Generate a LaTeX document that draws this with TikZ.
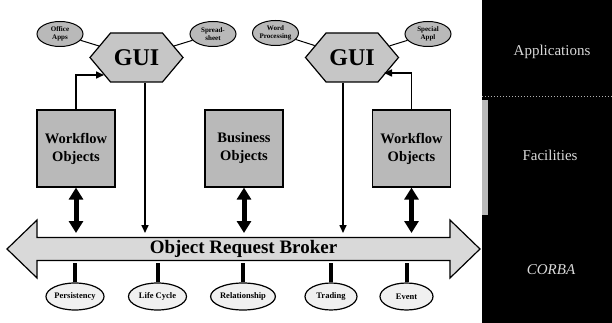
\documentclass[tikz,border=0pt]{standalone}
\usepackage{fontspec}
\setmainfont{Liberation Serif}
\usetikzlibrary{shapes.symbols,shapes.arrows,shapes.geometric,arrows.meta,backgrounds}
\begin{document}
\begin{tikzpicture}[x=1pt,y=-1pt,
  guihex/.style={signal, signal to=east and west, signal pointer angle=100,
    draw, line width=1.2pt, fill=gray!45, minimum width=93pt, minimum height=49pt,
    inner sep=0pt, font=\bfseries\fontsize{24}{24}\selectfont},
  appoval/.style={ellipse, draw, line width=1pt, fill=gray!55, minimum width=46pt,
    minimum height=25pt, inner sep=0pt, align=center,
    font=\bfseries\fontsize{7}{7.5}\selectfont},
  objbox/.style={rectangle, draw, line width=1.2pt, fill=gray!55, minimum width=78pt,
    minimum height=77pt, align=center, font=\bfseries\fontsize{14.5}{18}\selectfont},
  svcoval/.style={ellipse, draw, line width=1.2pt, fill=gray!12, minimum width=58pt,
    minimum height=27pt, inner sep=0pt, font=\bfseries\fontsize{8.5}{9}\selectfont},
  orbarrow/.style={double arrow, draw, line width=1.2pt, fill=gray!30,
    minimum width=58pt, minimum height=473pt, double arrow head extend=14pt,
    double arrow tip angle=88, inner sep=0pt,
    font=\bfseries\fontsize{19}{19}\selectfont},
  thinarrow/.style={-{Triangle[width=7pt,length=8pt]}, line width=1.6pt},
  dblarrow/.style={{Triangle[width=14pt,length=12pt]}-{Triangle[width=14pt,length=12pt]},
    line width=5pt},
  svclink/.style={line width=4pt},
  paneltext/.style={text=white!85!black, font=\fontsize{15}{15}\selectfont}
]
\useasboundingbox (0,0) rectangle (612,323);
\fill[white] (0,0) rectangle (612,323);

% layer bands on the right
\fill[black] (482,0) rectangle (612,323);
\fill[gray!55] (482,100) rectangle (488,215);
\draw[gray!60, dotted, line width=1pt] (482,97) -- (612,97);
\node[paneltext] (app) at (552,52) {Applications};
\node[paneltext] (fac) at (550,155) {Facilities};
\node[paneltext, font=\itshape\fontsize{15}{15}\selectfont] (corba) at (551,270) {CORBA};

% user interfaces and the applications attached to them
\node[guihex] (gui1) at (136.5,57.5) {GUI};
\node[guihex] (gui2) at (352,57.5) {GUI};
\node[appoval] (oa) at (60,34) {Office\\Apps};
\node[appoval] (ss) at (213,34) {Spread-\\sheet};
\node[appoval] (wp) at (275.5,33) {Word\\Processing};
\node[appoval] (sa) at (428,34) {Special\\Appl};

% business object layer
\node[objbox] (wf1) at (76,148.5) {Workflow\\Objects};
\node[objbox] (bo) at (244,148.5) {Business\\Objects};
\node[objbox] (wf2) at (411.5,148.5) {Workflow\\Objects};

% the broker and its services
\node[orbarrow] (orb) at (243.5,249) {Object Request Broker};
\node[svcoval] (per) at (75,296.5) {Persistency};
\node[svcoval] (lc) at (157.5,296.5) {Life Cycle};
\node[svcoval] (rel) at (243,296.5) {Relationship};
\node[svcoval, minimum width=52pt] (trd) at (331,296.5) {Trading};
\node[svcoval, minimum width=53pt] (evt) at (406.5,296.5) {Event};

\coordinate (orbtop) at (0,233);
\coordinate (orbbot) at (0,263);
\coordinate (g1in) at (104,75);
\coordinate (g2in) at (384,73);

% links between applications and GUIs
\draw[line width=1pt] (oa) -- (gui1);
\draw[line width=1pt] (ss) -- (gui1);
\draw[line width=1pt] (wp) -- (gui2);
\draw[line width=1pt] (sa) -- (gui2);

% objects reporting to the GUIs
\draw[thinarrow] (wf1.north) |- (g1in);
\draw[thinarrow] (wf2.north) |- (g2in);

% GUIs calling into the broker
\draw[thinarrow] ([xshift=8.5pt]gui1.south) -- ([xshift=8.5pt]gui1.south |- orbtop);
\draw[thinarrow] ([xshift=-9pt]gui2.south) -- ([xshift=-9pt]gui2.south |- orbtop);

% objects exchanging with the broker
\draw[dblarrow] (wf1.south) -- (wf1.south |- orbtop);
\draw[dblarrow] (bo.south) -- (bo.south |- orbtop);
\draw[dblarrow] (wf2.south) -- (wf2.south |- orbtop);

% services hanging off the broker
\draw[svclink] (per.north) -- (per.north |- orbbot);
\draw[svclink] (lc.north) -- (lc.north |- orbbot);
\draw[svclink] (rel.north) -- (rel.north |- orbbot);
\draw[svclink] (trd.north) -- (trd.north |- orbbot);
\draw[svclink] (evt.north) -- (evt.north |- orbbot);
\end{tikzpicture}
\end{document}
